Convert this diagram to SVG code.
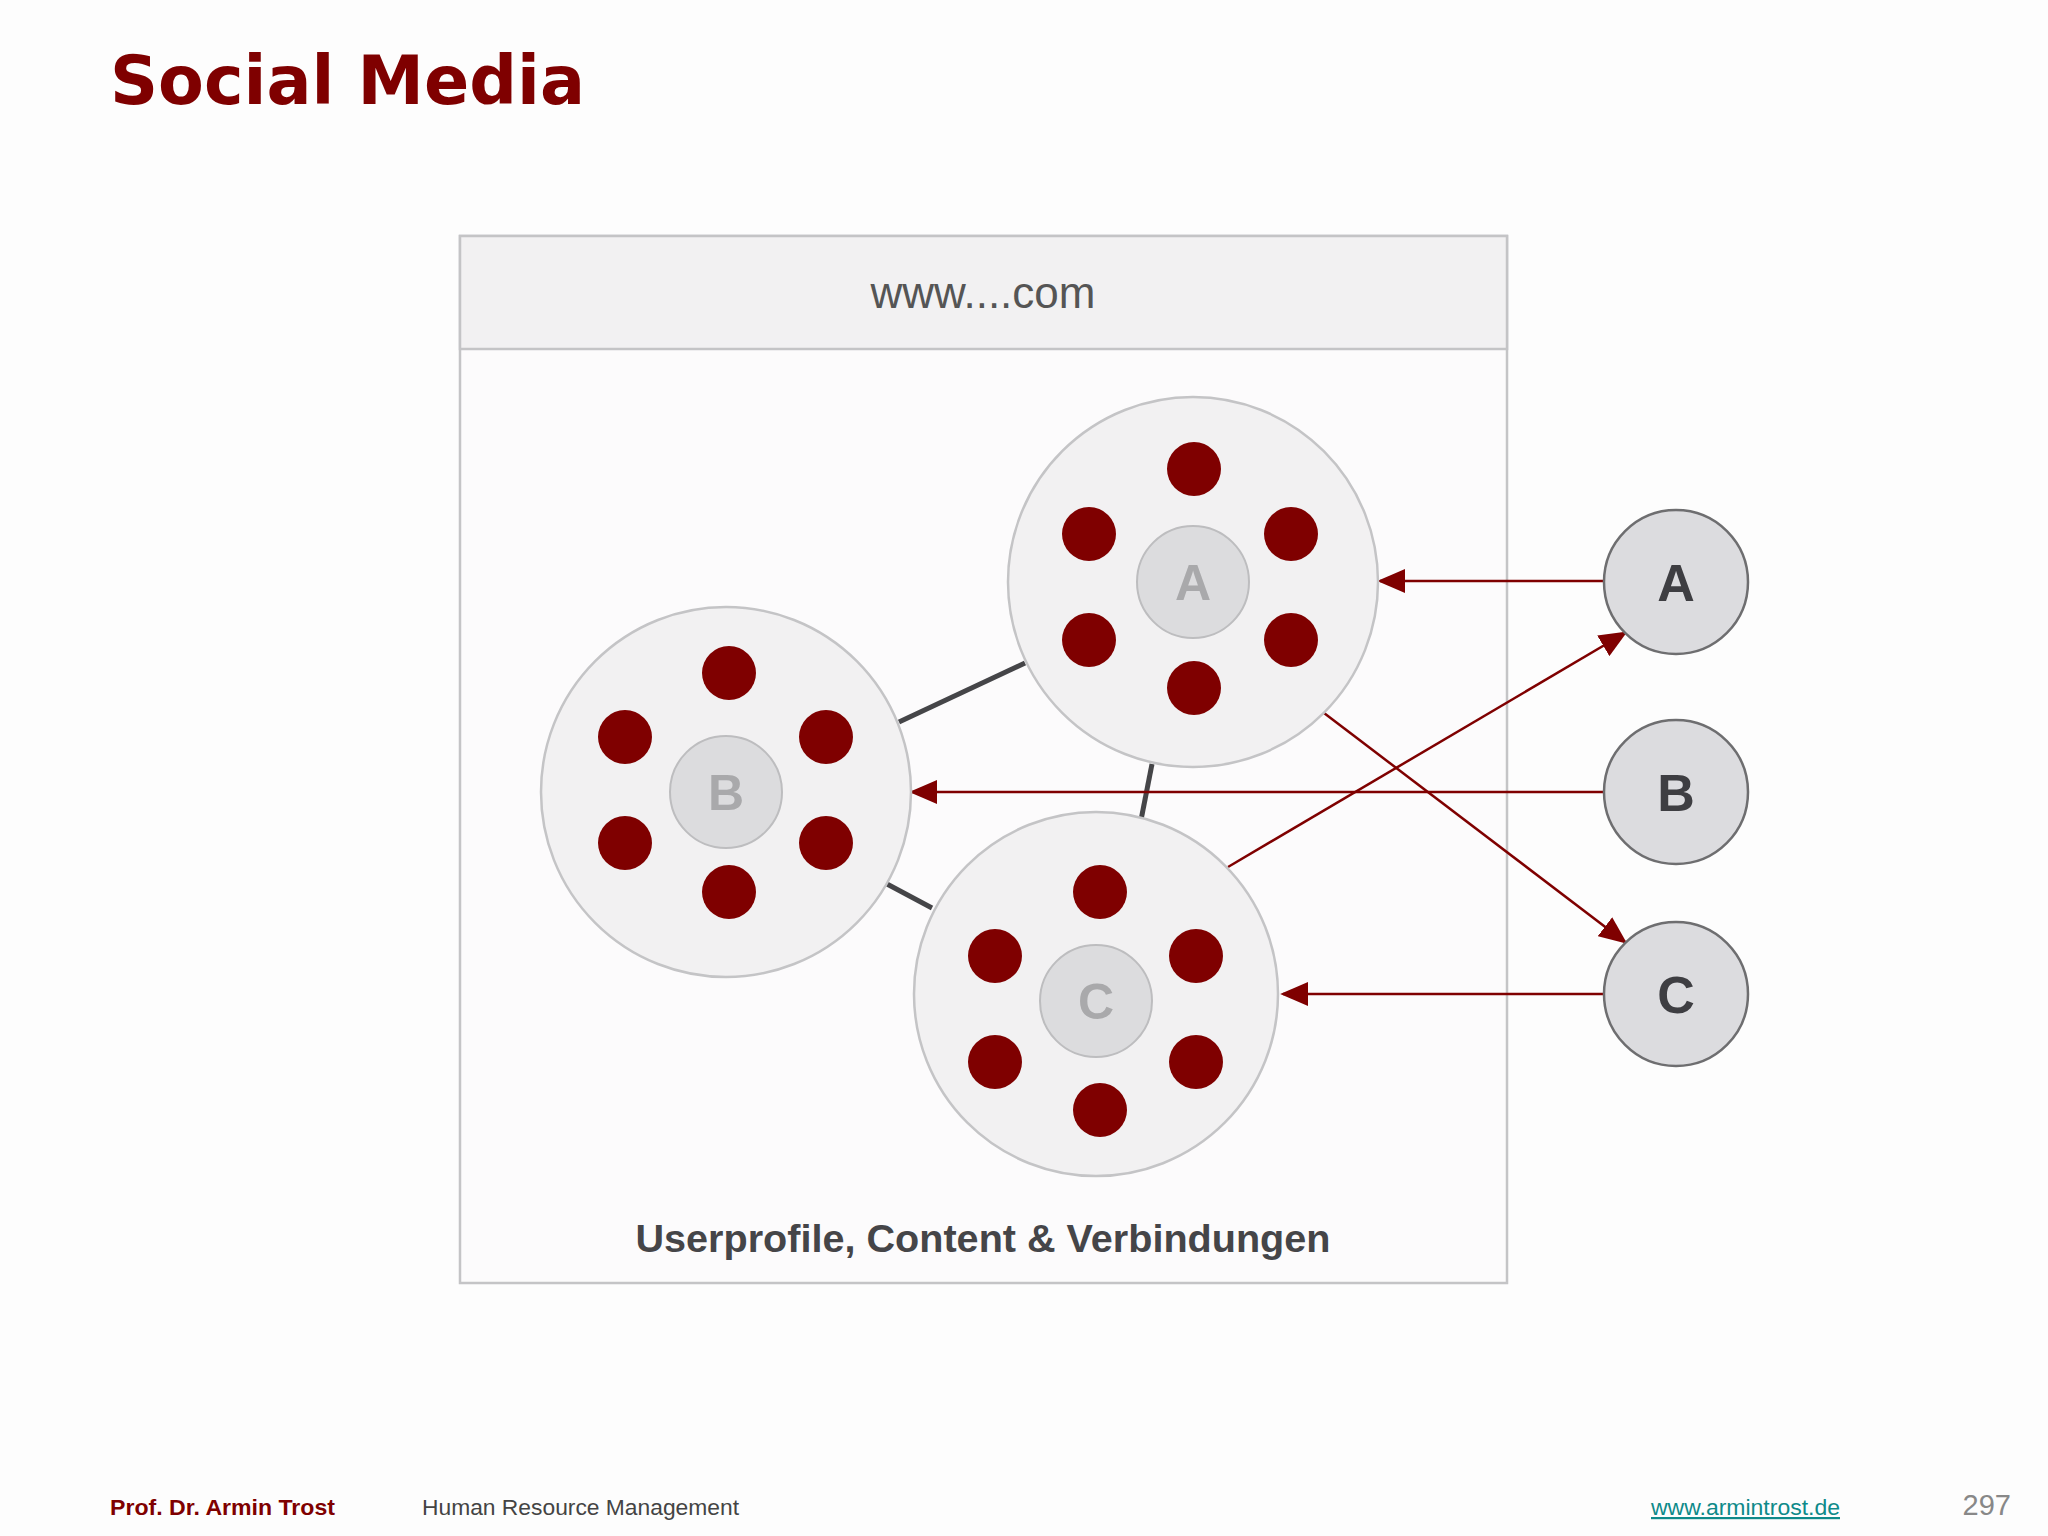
<svg xmlns="http://www.w3.org/2000/svg" width="2048" height="1536" viewBox="0 0 2048 1536">
<defs>
<style>
.big{fill:#f2f1f2;stroke:#c4c4c6;stroke-width:2.5}
.inner{fill:#dcdcde;stroke:#bdbdbf;stroke-width:2}
.il{font-family:"Liberation Sans",Arial,sans-serif;font-weight:bold;font-size:50px;fill:#a9a9ab;text-anchor:middle}
.dot{fill:#7f0000}
.ext{fill:#dcdcdf;stroke:#6e6e70;stroke-width:2.5}
.el{font-family:"Liberation Sans",Arial,sans-serif;font-weight:bold;font-size:52px;fill:#3e3e42;text-anchor:middle}
.gl{stroke:#454548;stroke-width:5}
.rl{stroke:#7f0000;stroke-width:2.5;fill:none;marker-end:url(#ah2)}
</style>
<marker id="ah2" viewBox="0 0 10 10" refX="9" refY="5" markerWidth="28" markerHeight="24" markerUnits="userSpaceOnUse" orient="auto" preserveAspectRatio="none">
<path d="M0,0 L10,5 L0,10 z" fill="#7f0000"/>
</marker>
</defs>
<rect width="2048" height="1536" fill="#fdfdfd"/>
<text x="110" y="104" font-family="DejaVu Sans,Liberation Sans,Arial,sans-serif" font-weight="bold" font-size="68" fill="#7f0000" textLength="475" lengthAdjust="spacingAndGlyphs">Social Media</text>
<g id="platform">
<rect x="460" y="236" width="1047" height="1047" fill="#fcfbfc" stroke="#c4c4c6" stroke-width="2.5"/>
<rect x="460" y="236" width="1047" height="113" fill="#f2f1f2" stroke="#c4c4c6" stroke-width="2.5"/>
<text x="983" y="308" font-family="Liberation Sans,Arial,sans-serif" font-size="44" fill="#555" text-anchor="middle">www....com</text>
<text x="983" y="1252" font-family="Liberation Sans,Arial,sans-serif" font-weight="bold" font-size="39" fill="#454548" text-anchor="middle" textLength="695" lengthAdjust="spacingAndGlyphs">Userprofile, Content &amp; Verbindungen</text>
</g>
<g id="connectors">
<line class="gl" x1="899" y1="722" x2="1025" y2="663"/>
<line class="gl" x1="1152" y1="764" x2="1141" y2="820"/>
<line class="gl" x1="887" y1="884" x2="932" y2="908"/>
<line class="rl" x1="1604" y1="581" x2="1380" y2="581"/>
<line class="rl" x1="1604" y1="792" x2="912" y2="792"/>
<line class="rl" x1="1604" y1="994" x2="1283" y2="994"/>
<line class="rl" x1="1228" y1="867" x2="1625" y2="633"/>
<line class="rl" x1="1324" y1="713" x2="1625" y2="942"/>
</g>
<g id="nodeA">
<circle class="big" cx="1193" cy="582" r="185"/>
<circle class="dot" cx="1194" cy="469" r="27"/>
<circle class="dot" cx="1089" cy="534" r="27"/>
<circle class="dot" cx="1291" cy="534" r="27"/>
<circle class="dot" cx="1089" cy="640" r="27"/>
<circle class="dot" cx="1291" cy="640" r="27"/>
<circle class="dot" cx="1194" cy="688" r="27"/>
<circle class="inner" cx="1193" cy="582" r="56"/>
<text class="il" x="1193" y="600">A</text>
</g>
<g id="nodeB">
<circle class="big" cx="726" cy="792" r="185"/>
<circle class="dot" cx="729" cy="673" r="27"/>
<circle class="dot" cx="625" cy="737" r="27"/>
<circle class="dot" cx="826" cy="737" r="27"/>
<circle class="dot" cx="625" cy="843" r="27"/>
<circle class="dot" cx="826" cy="843" r="27"/>
<circle class="dot" cx="729" cy="892" r="27"/>
<circle class="inner" cx="726" cy="792" r="56"/>
<text class="il" x="726" y="810">B</text>
</g>
<g id="nodeC">
<circle class="big" cx="1096" cy="994" r="182"/>
<circle class="dot" cx="1100" cy="892" r="27"/>
<circle class="dot" cx="995" cy="956" r="27"/>
<circle class="dot" cx="1196" cy="956" r="27"/>
<circle class="dot" cx="995" cy="1062" r="27"/>
<circle class="dot" cx="1196" cy="1062" r="27"/>
<circle class="dot" cx="1100" cy="1110" r="27"/>
<circle class="inner" cx="1096" cy="1001" r="56"/>
<text class="il" x="1096" y="1019">C</text>
</g>
<g id="extA"><circle class="ext" cx="1676" cy="582" r="72"/><text class="el" x="1676" y="601">A</text></g>
<g id="extB"><circle class="ext" cx="1676" cy="792" r="72"/><text class="el" x="1676" y="811">B</text></g>
<g id="extC"><circle class="ext" cx="1676" cy="994" r="72"/><text class="el" x="1676" y="1013">C</text></g>
<g id="footer" font-family="Liberation Sans,Arial,sans-serif" font-size="22">
<text x="110" y="1515" font-weight="bold" fill="#7f0000" textLength="225" lengthAdjust="spacingAndGlyphs">Prof. Dr. Armin Trost</text>
<text x="422" y="1515" fill="#444" textLength="317" lengthAdjust="spacingAndGlyphs">Human Resource Management</text>
<text x="1651" y="1515" fill="#0e8a8a" text-decoration="underline" textLength="189" lengthAdjust="spacingAndGlyphs">www.armintrost.de</text>
<text x="2011" y="1515" fill="#888" font-size="29" text-anchor="end">297</text>
</g>
</svg>
